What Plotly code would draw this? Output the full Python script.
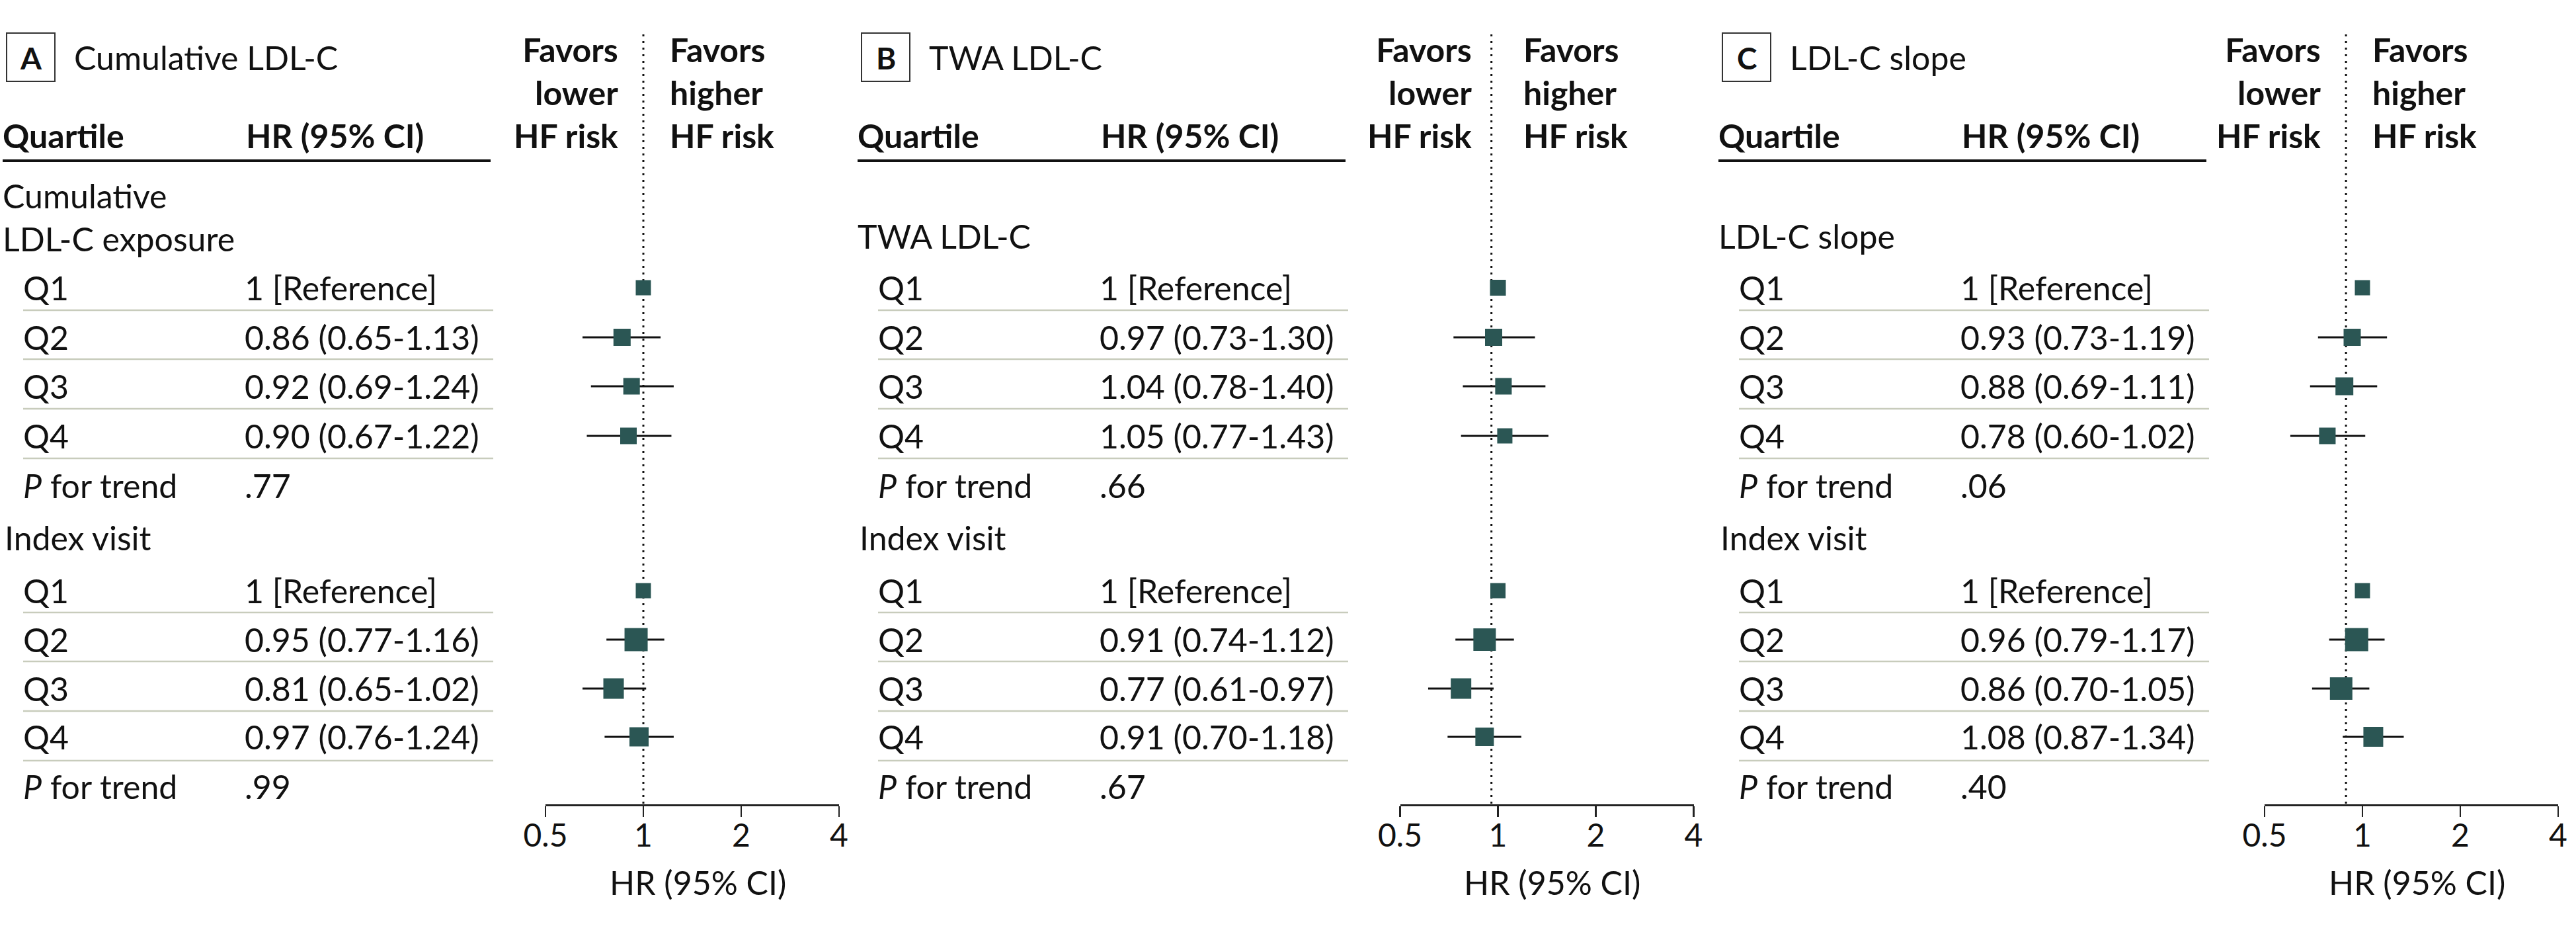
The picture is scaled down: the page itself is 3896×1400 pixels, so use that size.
import math
import plotly.graph_objects as go

# ---------------- data ----------------
panel_letters = ["A", "B", "C"]
panel_titles = ["Cumulative LDL-C", "TWA LDL-C", "LDL-C slope"]
section1_labels = ["Cumulative<br>LDL-C exposure", "TWA LDL-C", "LDL-C slope"]
section2_label = "Index visit"
quartiles = ["Q1", "Q2", "Q3", "Q4"]

# Panel A: cumulative LDL-C
a_cum_hr = [1.00, 0.86, 0.92, 0.90]
a_cum_lo = [1.00, 0.65, 0.69, 0.67]
a_cum_hi = [1.00, 1.13, 1.24, 1.22]
a_cum_p = ".77"
a_idx_hr = [1.00, 0.95, 0.81, 0.97]
a_idx_lo = [1.00, 0.77, 0.65, 0.76]
a_idx_hi = [1.00, 1.16, 1.02, 1.24]
a_idx_p = ".99"

# Panel B: TWA LDL-C
b_cum_hr = [1.00, 0.97, 1.04, 1.05]
b_cum_lo = [1.00, 0.73, 0.78, 0.77]
b_cum_hi = [1.00, 1.30, 1.40, 1.43]
b_cum_p = ".66"
b_idx_hr = [1.00, 0.91, 0.77, 0.91]
b_idx_lo = [1.00, 0.74, 0.61, 0.70]
b_idx_hi = [1.00, 1.12, 0.97, 1.18]
b_idx_p = ".67"

# Panel C: LDL-C slope
c_cum_hr = [1.00, 0.93, 0.88, 0.78]
c_cum_lo = [1.00, 0.73, 0.69, 0.60]
c_cum_hi = [1.00, 1.19, 1.11, 1.02]
c_cum_p = ".06"
c_idx_hr = [1.00, 0.96, 0.86, 1.08]
c_idx_lo = [1.00, 0.79, 0.70, 0.87]
c_idx_hi = [1.00, 1.17, 1.05, 1.34]
c_idx_p = ".40"

# dotted reference line position on each HR axis (as drawn in the original)
ref_line_hr = [1.0, 0.955, 0.89]

axis_tickvals = [0.5, 1, 2, 4]
axis_ticktext = ["0.5", "1", "2", "4"]
axis_title = "HR (95% CI)"

# ---------------- style / layout ----------------
W, H = 3896, 1400
FONT = "Lato"
FS = 50
BODY_WEIGHT = 400
BOX_COLOR = "#2b5654"
SEP_COLOR = "#c8ccbc"
INK = "#111111"

# marker sizes (px) per panel: [cumulative rows, index rows]
marker_px = [
    ([23, 26, 25, 25], [23, 35, 31, 29]),
    ([24, 26, 25, 23], [23, 34, 31, 28]),
    ([23, 26, 27, 25], [23, 35, 34, 30]),
]

x_offsets = [0, 1293, 2595]
axis_px = [(825, 1269), (2117.5, 2561.5), (3425, 3869)]
favors_center_px = [974, 2265, 3549]

y_title = 87
y_favors = 140
y_header = 205
y_header_line = 243
y_sec1 = [328, 357, 357]
y_rows1 = [435, 510, 584, 659]
y_p1 = 734
y_sec2 = 813
y_rows2 = [893, 967, 1041, 1114]
y_p2 = 1189
y_sep1 = [469, 543, 618, 693]
y_sep2 = [926, 1000, 1075, 1150]
y_axis = 1217
y_axis_title = 1334
y_ref_top = 52

panels = [
    (a_cum_hr, a_cum_lo, a_cum_hi, a_cum_p, a_idx_hr, a_idx_lo, a_idx_hi, a_idx_p),
    (b_cum_hr, b_cum_lo, b_cum_hi, b_cum_p, b_idx_hr, b_idx_lo, b_idx_hi, b_idx_p),
    (c_cum_hr, c_cum_lo, c_cum_hi, c_cum_p, c_idx_hr, c_idx_lo, c_idx_hi, c_idx_p),
]


def fmt(hr, lo, hi, i):
    if i == 0:
        return "1 [Reference]"
    return f"{hr:.2f} ({lo:.2f}-{hi:.2f})"


fig = go.Figure()
annotations = []
shapes = []


def txt(x, y, text, size=FS, bold=False, xanchor="left", align="left"):
    annotations.append(dict(
        x=x, y=y, xref="x", yref="y", text=text, showarrow=False,
        xanchor=xanchor, yanchor="middle", align=align,
        font=dict(family=FONT, size=size, color=INK,
                  weight=700 if bold else BODY_WEIGHT),
    ))


layout_axes = {}

for k in range(3):
    o = x_offsets[k]
    cum_hr, cum_lo, cum_hi, cum_p, idx_hr, idx_lo, idx_hi, idx_p = panels[k]
    ax_id = k + 2
    xname = f"x{ax_id}"

    # panel letter box + title
    shapes.append(dict(type="rect", xref="x", yref="y", x0=10 + o, x1=83 + o,
                       y0=50, y1=123, line=dict(color="#333333", width=2)))
    txt(47 + o, y_title, panel_letters[k], size=46, bold=True, xanchor="center", align="center")
    txt(110 + o, y_title, panel_titles[k])

    # column headers
    txt(2 + o, y_header, "Quartile", bold=True)
    txt(370 + o, y_header, "HR (95% CI)", bold=True)
    shapes.append(dict(type="line", xref="x", yref="y", x0=4 + o, x1=742 + o,
                       y0=y_header_line, y1=y_header_line,
                       line=dict(color=INK, width=4)))

    fc = favors_center_px[k]
    txt(fc - 37, y_favors, "Favors<br>lower<br>HF risk", size=50, bold=True,
        xanchor="right", align="right")
    txt(fc + 37, y_favors, "Favors<br>higher<br>HF risk", size=50, bold=True,
        xanchor="left", align="left")

    # section 1
    txt(2 + o, y_sec1[k], section1_labels[k])
    for i, q in enumerate(quartiles):
        txt(33 + o, y_rows1[i], q)
        txt(368 + o, y_rows1[i], fmt(cum_hr[i], cum_lo[i], cum_hi[i], i))
    txt(33 + o, y_p1, "<i>P</i> for trend")
    txt(368 + o, y_p1, cum_p)
    # section 2
    txt(5 + o, y_sec2, section2_label)
    for i, q in enumerate(quartiles):
        txt(33 + o, y_rows2[i], q)
        txt(368 + o, y_rows2[i], fmt(idx_hr[i], idx_lo[i], idx_hi[i], i))
    txt(33 + o, y_p2, "<i>P</i> for trend")
    txt(368 + o, y_p2, idx_p)

    for ys in y_sep1 + y_sep2:
        shapes.append(dict(type="line", xref="x", yref="y", x0=35 + o, x1=746 + o,
                           y0=ys, y1=ys, line=dict(color=SEP_COLOR, width=2.5)))

    # dotted reference line
    shapes.append(dict(type="line", xref=xname, yref="y",
                       x0=ref_line_hr[k], x1=ref_line_hr[k], y0=y_ref_top, y1=y_axis,
                       layer="below",
                       line=dict(color=INK, width=3, dash="3px,7px")))

    # forest markers
    for hrs, los, his, ys, sizes in [
        (cum_hr, cum_lo, cum_hi, y_rows1, marker_px[k][0]),
        (idx_hr, idx_lo, idx_hi, y_rows2, marker_px[k][1]),
    ]:
        fig.add_trace(go.Scatter(
            x=hrs, y=ys, xaxis=xname, yaxis="y", mode="markers",
            marker=dict(symbol="square", size=sizes, color=BOX_COLOR, opacity=1,
                        line=dict(width=0)),
            error_x=dict(type="data", symmetric=False,
                         array=[h - m for h, m in zip(his, hrs)],
                         arrayminus=[m - l for m, l in zip(hrs, los)],
                         thickness=3, width=0, color=INK),
            showlegend=False, hoverinfo="skip", cliponaxis=False,
        ))

    x0p, x1p = axis_px[k]
    layout_axes[f"xaxis{ax_id}"] = dict(
        type="log", range=[math.log10(0.5), math.log10(4)],
        domain=[x0p / W, x1p / W], anchor="free", position=1 - y_axis / H,
        tickvals=axis_tickvals, ticktext=axis_ticktext,
        ticks="outside", ticklen=16, tickwidth=2.5, tickcolor="#222222",
        ticklabelstandoff=-12,
        showline=True, linecolor="#222222", linewidth=2.5,
        showgrid=False, zeroline=False, automargin=False,
        tickfont=dict(family=FONT, size=48, color=INK, weight=BODY_WEIGHT),
        fixedrange=True,
    )
    txt((x0p + x1p) / 2 + 8, y_axis_title, axis_title, xanchor="center", align="center")

fig.update_layout(
    template="none",
    width=W, height=H, autosize=False,
    margin=dict(l=0, r=0, t=0, b=0, pad=0, autoexpand=False),
    paper_bgcolor="white", plot_bgcolor="rgba(0,0,0,0)",
    font=dict(family=FONT, size=FS, color=INK),
    xaxis=dict(range=[0, W], domain=[0, 1], visible=False, fixedrange=True,
               automargin=False, showgrid=False, zeroline=False),
    yaxis=dict(range=[H, 0], domain=[0, 1], visible=False, fixedrange=True,
               automargin=False, showgrid=False, zeroline=False),
    annotations=annotations, shapes=shapes,
    showlegend=False,
    **layout_axes,
)

fig.write_html(
    "out.html",
    config={"displayModeBar": False, "staticPlot": True},
    post_script="document.body.style.margin='0';document.body.style.overflow='hidden';",
)
